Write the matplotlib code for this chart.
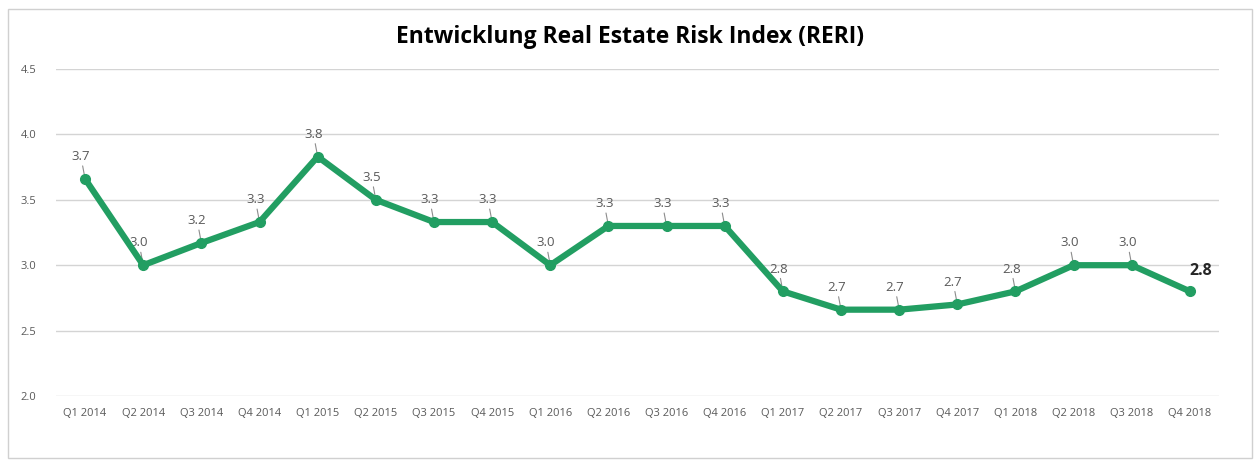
import matplotlib.pyplot as plt
from matplotlib.patches import Rectangle

# --------------------------------------------------------------
# Daten
# --------------------------------------------------------------
quarters = ['Q1 2014', 'Q2 2014', 'Q3 2014', 'Q4 2014',
            'Q1 2015', 'Q2 2015', 'Q3 2015', 'Q4 2015',
            'Q1 2016', 'Q2 2016', 'Q3 2016', 'Q4 2016',
            'Q1 2017', 'Q2 2017', 'Q3 2017', 'Q4 2017',
            'Q1 2018', 'Q2 2018', 'Q3 2018', 'Q4 2018']
reri = [3.66, 3.0, 3.17, 3.33,
        3.83, 3.5, 3.33, 3.33,
        3.0, 3.3, 3.3, 3.3,
        2.8, 2.66, 2.66, 2.7,
        2.8, 3.0, 3.0, 2.8]
y_ticks = [2.0, 2.5, 3.0, 3.5, 4.0, 4.5]

green = '#229e62'
grid_col = '#d4d4d4'
text_col = '#595959'

plt.rcParams['font.family'] = ['Open Sans', 'DejaVu Sans']

fig = plt.figure(figsize=(12.6, 4.68), dpi=100)
ax = fig.add_axes([56 / 1260, 1 - 396 / 468, (1219 - 56) / 1260, (396 - 69) / 468])

x = list(range(len(quarters)))
ax.plot(x, reri, color=green, lw=4.5, marker='o', markersize=7,
        solid_joinstyle='round', solid_capstyle='round', zorder=3)

# Datenbeschriftungen mit kleinen Führungslinien
for i, v in enumerate(reri[:-1]):
    ax.annotate(f'{v:.1f}', xy=(i, v), xytext=(-3, 16), textcoords='offset points',
                ha='center', va='center', fontsize=9.5, color=text_col,
                arrowprops=dict(arrowstyle='-', color='#8c8c8c', lw=0.8,
                                shrinkA=0, shrinkB=1), zorder=2)
ax.annotate(f'{reri[-1]:.1f}', xy=(x[-1], reri[-1]), xytext=(8, 15),
            textcoords='offset points', ha='center', va='center',
            fontsize=11.5, fontweight='bold', color='#262626')

ax.set_xlim(-0.5, len(quarters) - 0.5)
ax.set_ylim(2.0, 4.5)
ax.set_yticks(y_ticks)
ax.set_yticklabels([f'{t:.1f}' for t in y_ticks])
ax.set_xticks(x)
ax.set_xticklabels(quarters)
ax.yaxis.grid(True, color=grid_col, lw=1)
ax.set_axisbelow(True)
for s in ax.spines.values():
    s.set_visible(False)
ax.tick_params(length=0, labelsize=8, labelcolor=text_col)
ax.tick_params(axis='y', pad=14)
ax.tick_params(axis='x', pad=9)

fig.text(0.5, 1 - 37 / 468, 'Entwicklung Real Estate Risk Index (RERI)',
         ha='center', va='center', fontsize=16.5, fontweight='bold', color='black')

# Rahmen um das Diagramm
fig.patches.append(Rectangle((8 / 1260, 1 - 458 / 468), (1252 - 8) / 1260, (458 - 9) / 468,
                             transform=fig.transFigure, fill=False,
                             edgecolor='#d0d0d0', lw=1))

plt.savefig('out.png', dpi=100)
plt.close()
